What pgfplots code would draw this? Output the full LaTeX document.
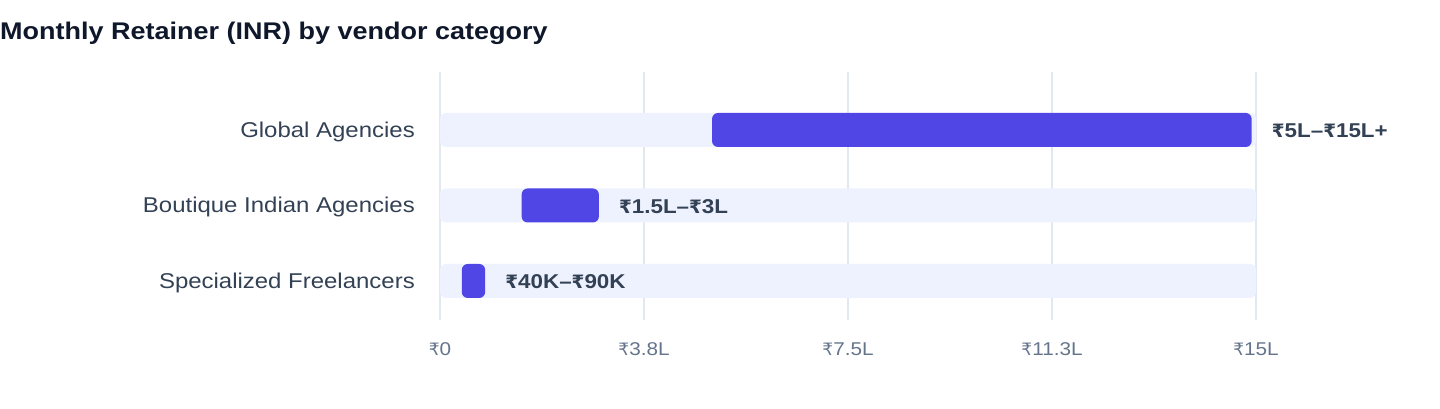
\documentclass[border=0pt]{standalone}
\usepackage{fontspec}
\setmainfont{Liberation Sans}[FakeStretch=1.12]
\newfontfamily\rfont{DejaVu Sans}[Scale=0.92]
\newcommand\Rs{{\rfont ₹}}
\usepackage{pgfplots}
\pgfplotsset{compat=1.18}
\definecolor{titlec}{HTML}{0F172A}
\definecolor{catc}{HTML}{334155}
\definecolor{tickc}{HTML}{64748B}
\definecolor{gridc}{HTML}{E2E8F0}
\definecolor{bgbar}{HTML}{EEF2FF}
\definecolor{barc}{HTML}{4F46E5}
\begin{document}
\begin{tikzpicture}[x=1bp,y=1bp]
\useasboundingbox (0,0) rectangle (1440,408);
\node[anchor=base west, inner sep=0, text=titlec, font=\fontsize{24.1bp}{28bp}\selectfont\bfseries] at (0,368.7) {Monthly Retainer (INR) by vendor category};
\pgfplotsset{base/.style={
  at={(440bp,88bp)}, anchor=south west, scale only axis, width=816bp, height=248bp,
  xmin=0, xmax=15, ymin=-0.517, ymax=2.768,
  axis line style={draw=none}, major tick length=0pt,
  bar width=34bp, clip=false,
}}
\begin{axis}[base, xbar,
  xtick={0,3.75,7.5,11.25,15},
  xticklabels={\Rs0,\Rs3.8L,\Rs7.5L,\Rs11.3L,\Rs15L},
  xmajorgrids, grid style={draw=gridc, line width=1.5bp},
  ytick={0,1,2},
  yticklabels={Specialized Freelancers,Boutique Indian Agencies,Global Agencies},
  xticklabel style={anchor=base, inner sep=0pt, yshift=-35bp, text=tickc, font=\fontsize{18.5bp}{22bp}\selectfont},
  yticklabel style={anchor=base east, inner sep=0pt, xshift=-25bp, yshift=-7.5bp, text=catc, font=\fontsize{21.4bp}{25bp}\selectfont},
]
\addplot[fill=bgbar, draw=none, rounded corners=6bp] coordinates {(15,0) (15,1) (15,2)};
\end{axis}
\begin{axis}[base, xbar stacked, hide axis]
\addplot[draw=none, fill=none] coordinates {(5,2) (1.5,1) (0.4,0)};
\addplot[fill=barc, draw=none, rounded corners=6bp] coordinates {(9.92,2) (1.42,1) (0.43,0)};
\end{axis}
\begin{axis}[base, hide axis]
\addplot[draw=none, mark=none,
  nodes near coords, point meta=explicit symbolic,
  every node near coord/.append style={anchor=base west, inner sep=0pt, xshift=20bp, yshift=-8bp, text=catc, font=\fontsize{20bp}{24bp}\selectfont\bfseries}]
  coordinates {(14.92,2) [{\Rs5L–\Rs15L+}] (2.92,1) [{\Rs1.5L–\Rs3L}] (0.83,0) [{\Rs40K–\Rs90K}]};
\end{axis}
\end{tikzpicture}
\end{document}
